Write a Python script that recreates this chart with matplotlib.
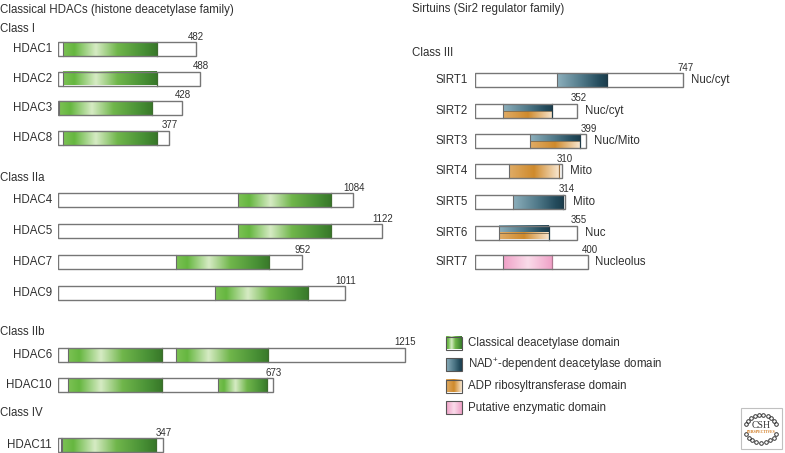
import numpy as np
import matplotlib
matplotlib.use("Agg")
import matplotlib.pyplot as plt
from matplotlib.patches import Rectangle
from matplotlib.colors import LinearSegmentedColormap

plt.rcParams['font.family'] = ['Liberation Sans', 'DejaVu Sans']
plt.rcParams['mathtext.default'] = 'regular'

# ---------------- data ----------------
hdac_names = ['HDAC1', 'HDAC2', 'HDAC3', 'HDAC8', 'HDAC4', 'HDAC5', 'HDAC7', 'HDAC9',
              'HDAC6', 'HDAC10', 'HDAC11']
hdac_lengths = [482, 488, 428, 377, 1084, 1122, 952, 1011, 1215, 673, 347]
# drawn extent of each bar (figure is not strictly to scale), residues
hdac_drawn = [482, 498, 435, 389, 1034, 1134, 855, 1005, 1215, 754, 368]
hdac_domains = [
    [(17, 345)], [(17, 345)], [(3, 330)], [(17, 345)],
    [(630, 955)], [(630, 955)], [(414, 740)], [(550, 876)],
    [(35, 362), (411, 736)], [(35, 362), (559, 733)],
    [(13, 341)],
]
hdac_extra_lines = [[], [], [], [], [], [], [], [], [], [], [8]]
hdac_classes = ['Class I', 'Class IIa', 'Class IIb', 'Class IV']

sirt_names = ['SIRT1', 'SIRT2', 'SIRT3', 'SIRT4', 'SIRT5', 'SIRT6', 'SIRT7']
sirt_lengths = [747, 352, 399, 310, 314, 355, 400]
sirt_drawn = [747, 367, 400, 314, 324, 367, 405]
sirt_domain_start = [296, 101, 199, 124, 138, 88, 100]
sirt_domain_end = [474, 278, 376, 303, 317, 265, 278]
sirt_domain_type = ['nad', 'nad+adp', 'nad+adp', 'adp', 'nad', 'nad+adp', 'putative']
sirt_location = ['Nuc/cyt', 'Nuc/cyt', 'Nuc/Mito', 'Mito', 'Mito', 'Nuc', 'Nucleolus']

legend_labels = ['Classical deacetylase domain', r'NAD$^{+}$-dependent deacetylase domain',
                 'ADP ribosyltransferase domain', 'Putative enzymatic domain']
legend_types = ['classical', 'nad', 'adp', 'putative']

# ---------------- style / layout ----------------
W, H = 785, 453
TXT = '#303030'
EDGE = '#767676'
FS = 8.3
NFS = 7.0
BAR_H = 14

cmaps = {
    'classical': LinearSegmentedColormap.from_list('g', [
        (0.0, '#7cc254'), (0.12, '#66b740'), (0.35, '#d6ebc4'),
        (0.58, '#70b64b'), (0.86, '#489035'), (1.0, '#387829')]),
    'nad': LinearSegmentedColormap.from_list('b', [
        (0.0, '#8db0bd'), (0.5, '#4f7888'), (0.85, '#244c5d'), (1.0, '#1c3e4e')]),
    'adp': LinearSegmentedColormap.from_list('o', [
        (0.0, '#e0ac66'), (0.5, '#cf8a2c'), (1.0, '#f8e6cf')]),
    'putative': LinearSegmentedColormap.from_list('p', [
        (0.0, '#ef9fc6'), (0.5, '#fadcea'), (1.0, '#ef9fc6')]),
}
domain_edge = {'classical': '#3e6e2e', 'nad': '#1f3a47', 'adp': '#9a7040', 'putative': '#b07890'}

grad = np.linspace(0, 1, 256)[None, :]


def draw_grad(ax, kind, x0, x1, y0, y1, z=2):
    ax.imshow(grad, cmap=cmaps[kind], extent=(x0, x1, y1, y0), aspect='auto',
              interpolation='bilinear', zorder=z)


fig = plt.figure(figsize=(W / 100, H / 100), dpi=100)

# overlay axes in pixel coordinates for titles, legend, logo
ov = fig.add_axes([0, 0, 1, 1])
ov.set_xlim(0, W)
ov.set_ylim(H, 0)
ov.axis('off')

# left panel: residues on x
L0, LSCALE = 58.3, 0.2853
axL = fig.add_axes([L0 / W, 0, 370 / W, 1])
axL.axis('off')
# right panel
R0, RSCALE = 474.7, 0.2793
axR = fig.add_axes([R0 / W, 0, (W - R0) / W, 1])
axR.axis('off')

ov.text(0.5, 9.5, 'Classical HDACs (histone deacetylase family)', fontsize=FS, color=TXT,
        va='center', ha='left')
ov.text(411.7, 9, 'Sirtuins (Sir2 regulator family)', fontsize=FS, color=TXT,
        va='center', ha='left')

# ---- HDACs ----
class_y = [29, 178.3, 332.3, 413.3]
row_y = [49.2, 78.5, 108, 138, 200.3, 231.3, 262.3, 293.3, 354.8, 385.3, 445.3]
for cname, cy in zip(hdac_classes, class_y):
    ov.text(0.5, cy, cname, fontsize=FS, color=TXT, va='center', ha='left')

for name, length, drawn, doms, extra, y in zip(hdac_names, hdac_lengths, hdac_drawn,
                                               hdac_domains, hdac_extra_lines, row_y):
    y0, y1 = y - BAR_H / 2, y + BAR_H / 2
    axL.add_patch(Rectangle((0, y0), drawn, BAR_H, facecolor='white', edgecolor='none', zorder=1))
    for (s, e) in doms:
        draw_grad(axL, 'classical', s, e, y0, y1)
        axL.plot([s, s], [y0, y1], color='#6a6a6a', lw=0.8, zorder=3)
        axL.plot([e, e], [y0, y1], color=domain_edge['classical'], lw=0.9, zorder=3)
    for xl in extra:
        axL.plot([xl, xl], [y0, y1], color='#6a6a6a', lw=0.8, zorder=3)
    axL.add_patch(Rectangle((0, y0), drawn, BAR_H, facecolor='none', edgecolor=EDGE,
                            lw=1.0, zorder=4))
    axL.annotate(name, (0, y), xytext=(-6.5, 0), textcoords='offset pixels',
                 ha='right', va='center', fontsize=FS, color=TXT, annotation_clip=False)
    axL.annotate(str(length), (drawn, y0), xytext=(0.5, 5.5), textcoords='offset pixels',
                 ha='center', va='center', fontsize=NFS, color=TXT, annotation_clip=False)

axL.set_xlim(0, 370 / LSCALE)
axL.set_ylim(H, 0)

# ---- Sirtuins ----
ov.text(411.7, 52.7, 'Class III', fontsize=FS, color=TXT, va='center', ha='left')
srow_y = [80.3, 110.8, 141.3, 171.3, 202, 232.5, 262.3]
for name, length, drawn, s, e, kind, loc, y in zip(sirt_names, sirt_lengths, sirt_drawn,
                                                    sirt_domain_start, sirt_domain_end,
                                                    sirt_domain_type, sirt_location, srow_y):
    y0, y1 = y - BAR_H / 2, y + BAR_H / 2
    axR.add_patch(Rectangle((0, y0), drawn, BAR_H, facecolor='white', edgecolor='none', zorder=1))
    if kind == 'nad+adp':
        ym = y
        draw_grad(axR, 'nad', s, e, y0, ym)
        draw_grad(axR, 'adp', s, e, ym, y1)
        axR.plot([s, e], [ym, ym], color='#7a6a50', lw=0.6, zorder=3)
        ekind = 'nad'
    else:
        draw_grad(axR, kind, s, e, y0, y1)
        ekind = kind
    axR.plot([s, s], [y0, y1], color='#6a6a6a', lw=0.8, zorder=3)
    axR.plot([e, e], [y0, y1], color=domain_edge[ekind], lw=0.9, zorder=3)
    axR.add_patch(Rectangle((0, y0), drawn, BAR_H, facecolor='none', edgecolor=EDGE,
                            lw=1.0, zorder=4))
    axR.annotate(name, (0, y), xytext=(-7, 0), textcoords='offset pixels',
                 ha='right', va='center', fontsize=FS, color=TXT, annotation_clip=False)
    axR.annotate(str(length), (drawn, y0), xytext=(2, 5.5), textcoords='offset pixels',
                 ha='center', va='center', fontsize=NFS, color=TXT, annotation_clip=False)
    axR.annotate(loc, (drawn, y), xytext=(7.5, 0), textcoords='offset pixels',
                 ha='left', va='center', fontsize=FS, color=TXT, annotation_clip=False)

axR.set_xlim(0, (W - R0) / RSCALE)
axR.set_ylim(H, 0)

# ---- legend ----
leg_y = [343, 364.7, 386, 407.7]
for lab, kind, y in zip(legend_labels, legend_types, leg_y):
    x0, x1 = 446, 462
    draw_grad(ov, kind, x0, x1, y - 6.5, y + 6.5)
    ov.add_patch(Rectangle((x0, y - 6.5), x1 - x0, 13, facecolor='none',
                           edgecolor='#555555', lw=0.8, zorder=4))
    ov.text(467.7, y, lab, fontsize=FS, color=TXT, va='center', ha='left')

# ---- CSH logo ----
ov.add_patch(Rectangle((740.7, 408.3), 41, 41, facecolor='white', edgecolor='#c0c0c0',
                       lw=0.8, zorder=4))
cx, cy = 761.2, 428.8
t_top = np.linspace(np.pi * 1.1, np.pi * 1.9, 10)
t_bot = np.linspace(np.pi * 0.12, np.pi * 0.88, 9)
for t in (t_top, t_bot):
    ov.plot(cx + 16 * np.cos(t), cy + 14 * np.sin(t), 'o', ms=2.6, mfc='none',
            mec='#333333', mew=0.7, zorder=5)
ov.text(cx, cy - 3, 'CSH', fontsize=7, color='#333333', ha='center', va='center',
        family=['Liberation Serif', 'DejaVu Serif'], zorder=6)
ov.text(cx, cy + 3.5, 'PERSPECTIVES', fontsize=2.8, color='#d07a20', ha='center',
        va='center', fontweight='bold', family=['Liberation Serif', 'DejaVu Serif'], zorder=6)

ov.set_xlim(0, W)
ov.set_ylim(H, 0)

fig.savefig('out.png', dpi=100)
